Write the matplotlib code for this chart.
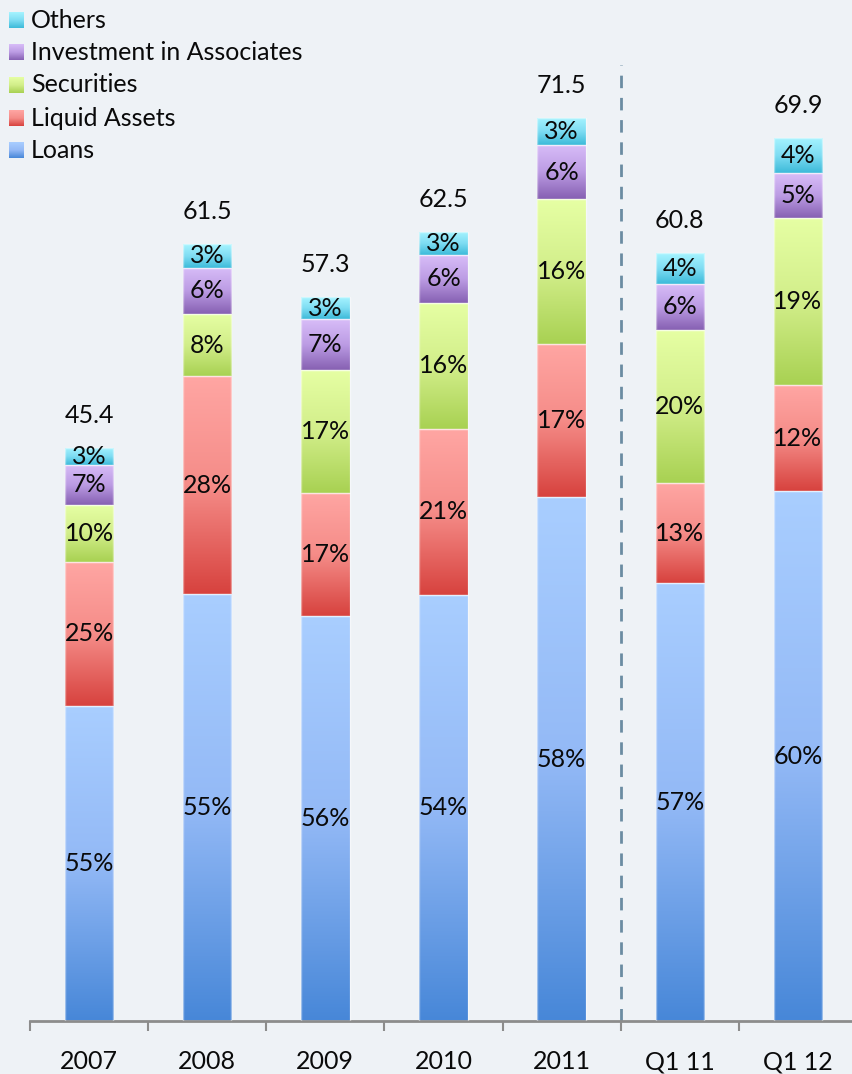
import numpy as np
import matplotlib
matplotlib.use("Agg")
import matplotlib.pyplot as plt
from matplotlib.colors import to_rgb

# ---- data -------------------------------------------------------------
periods = ["2007", "2008", "2009", "2010", "2011", "Q1 11", "Q1 12"]
totals = [45.4, 61.5, 57.3, 62.5, 71.5, 60.8, 69.9]

series_names = ["Loans", "Liquid Assets", "Securities",
                "Investment in Associates", "Others"]
loans_pct = [55, 55, 56, 54, 58, 57, 60]
liquid_pct = [25, 28, 17, 21, 17, 13, 12]
securities_pct = [10, 8, 17, 16, 16, 20, 19]
associates_pct = [7, 6, 7, 6, 6, 6, 5]
others_pct = [3, 3, 3, 3, 3, 4, 4]

# ---- styles -----------------------------------------------------------
# gradient stops (top, middle, bottom) for each series
gradients = [
    ["#A9CEFF", "#93B9F6", "#4787D8"],   # Loans
    ["#FFA6A3", "#F58C88", "#D7423E"],   # Liquid Assets
    ["#E6FFA4", "#D2EE8A", "#A8D152"],   # Securities
    ["#D8BDF8", "#BC9CE4", "#8660B2"],   # Investment in Associates
    ["#A6F4FF", "#7FDDF3", "#3CBAD9"],   # Others
]
bg = "#EEF2F6"
FONT = "Lato"
FS = 18
TXT = "#0A0A0A"

W, H = 852, 1074
fig = plt.figure(figsize=(W / 100, H / 100), dpi=100, facecolor=bg)

px_per_unit = 12.63
base_px = 1021
ymax = 80
ax = fig.add_axes([30 / W, (H - base_px) / H, 827 / W, ymax * px_per_unit / H])
ax.set_facecolor(bg)


def gradient_array(stops, n=256):
    cols = np.array([to_rgb(c) for c in stops])
    pos = np.linspace(0, 1, len(stops))
    t = np.linspace(0, 1, n)
    arr = np.stack([np.interp(t, pos, cols[:, k]) for k in range(3)], axis=-1)
    return arr[:, None, :]


x = np.arange(len(periods))
bar_w = 0.41
pct_series = [loans_pct, liquid_pct, securities_pct, associates_pct, others_pct]
bottoms = np.zeros(len(periods))
for s, pcts in enumerate(pct_series):
    vals = np.array(totals) * np.array(pcts) / 100.0
    bars = ax.bar(x, vals, bar_w, bottom=bottoms, facecolor="none",
                  edgecolor=(1, 1, 1, 0.45), linewidth=1.0, zorder=3)
    grad = gradient_array(gradients[s])
    for i, patch in enumerate(bars):
        x0 = patch.get_x()
        y0 = patch.get_y()
        im = ax.imshow(grad, extent=[x0, x0 + patch.get_width(), y0, y0 + patch.get_height()],
                       aspect="auto", origin="upper", interpolation="bilinear", zorder=2)
        im.set_clip_path(patch)
        ax.text(x[i], y0 + patch.get_height() / 2, f"{pcts[i]}%", ha="center", va="center",
                fontsize=FS, family=FONT, color=TXT, zorder=5)
    bottoms = bottoms + vals

for i, t in enumerate(totals):
    ax.annotate(f"{t:.1f}", (x[i], t), xytext=(0, 18), textcoords="offset points",
                ha="center", va="baseline", fontsize=FS, family=FONT, color=TXT)

# separator between annual and quarterly figures
ax.plot([4.5, 4.5], [0, 75.7], linestyle=(0, (4.5, 3.5)), color="#6B8CA2",
         linewidth=2.0, zorder=1)

ax.set_xlim(-0.5, 6.5)
ax.set_ylim(0, ymax)

for side in ["top", "right", "left"]:
    ax.spines[side].set_visible(False)
ax.spines["bottom"].set_color("#8C8C8C")
ax.spines["bottom"].set_linewidth(2.0)
ax.set_yticks([])
ax.set_xticks(np.arange(-0.5, 7.0, 1.0))
ax.set_xticklabels([])
ax.tick_params(axis="x", which="major", length=7, width=1.5, color="#8C8C8C")
ax.set_xticks(x, minor=True)
ax.set_xticklabels(periods, minor=True, fontsize=FS, family=FONT, color=TXT)
ax.tick_params(axis="x", which="minor", length=0, pad=21)

# legend with gradient swatches (listed top-down in reverse stacking order)
leg_y = [20, 52, 85, 118, 150]
for k, s in enumerate(reversed(range(len(series_names)))):
    cy = leg_y[k]
    sw = fig.add_axes([9 / W, (H - cy - 8) / H, 15 / W, 16 / H])
    sw.imshow(gradient_array(gradients[s]), aspect="auto", origin="upper",
              interpolation="bilinear")
    sw.set_axis_off()
    fig.text(31 / W, (H - cy) / H, series_names[s], ha="left", va="center",
             fontsize=FS, family=FONT, color=TXT)

fig.savefig("out.png", dpi=100, facecolor=bg)
